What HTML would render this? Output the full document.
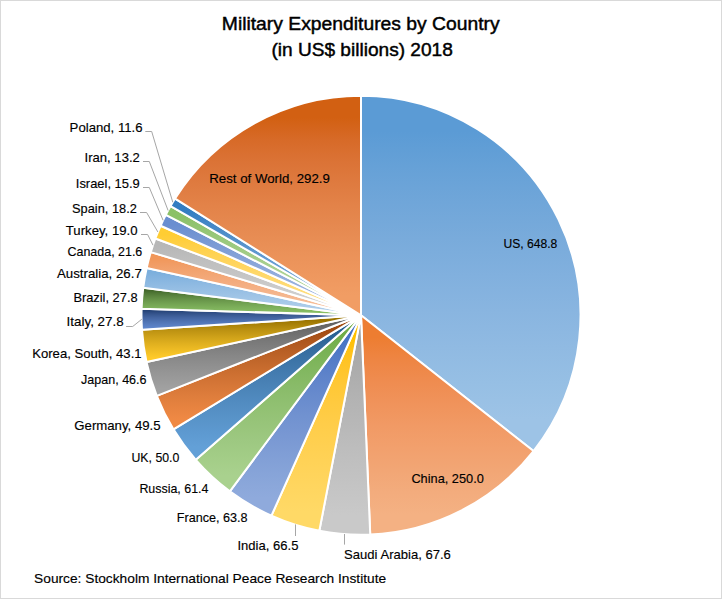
<!DOCTYPE html>
<html><head><meta charset="utf-8"><style>
html,body{margin:0;padding:0;background:#fff;}
body{width:722px;height:599px;overflow:hidden;position:relative;}
svg{position:absolute;left:0;top:0;}
text{font-family:"Liberation Sans",sans-serif;fill:#000;stroke:#000;stroke-width:0.15px;}
</style></head><body>
<svg width="722" height="599" viewBox="0 0 722 599">
<defs>
<linearGradient id="g0" x1="0" y1="0" x2="0" y2="1"><stop offset="0.100" stop-color="#5B9BD5"/><stop offset="0.201" stop-color="#66A1D7"/><stop offset="0.302" stop-color="#70A6D9"/><stop offset="0.404" stop-color="#79ABDB"/><stop offset="0.505" stop-color="#81B0DE"/><stop offset="0.606" stop-color="#89B5E0"/><stop offset="0.708" stop-color="#90BAE2"/><stop offset="0.809" stop-color="#96BFE4"/><stop offset="0.910" stop-color="#9DC3E6"/></linearGradient>
<linearGradient id="g1" x1="0" y1="0" x2="0" y2="1"><stop offset="0.100" stop-color="#ED7D31"/><stop offset="0.201" stop-color="#EE8543"/><stop offset="0.302" stop-color="#EF8C50"/><stop offset="0.404" stop-color="#F0935B"/><stop offset="0.505" stop-color="#F19A65"/><stop offset="0.606" stop-color="#F2A06D"/><stop offset="0.708" stop-color="#F2A675"/><stop offset="0.809" stop-color="#F3AC7D"/><stop offset="0.910" stop-color="#F4B183"/></linearGradient>
<linearGradient id="g2" x1="0" y1="0" x2="0" y2="1"><stop offset="0.100" stop-color="#A5A5A5"/><stop offset="0.201" stop-color="#AAAAAA"/><stop offset="0.302" stop-color="#AFAFAF"/><stop offset="0.404" stop-color="#B4B4B4"/><stop offset="0.505" stop-color="#B8B8B8"/><stop offset="0.606" stop-color="#BDBDBD"/><stop offset="0.708" stop-color="#C1C1C1"/><stop offset="0.809" stop-color="#C5C5C5"/><stop offset="0.910" stop-color="#C9C9C9"/></linearGradient>
<linearGradient id="g3" x1="0" y1="0" x2="0" y2="1"><stop offset="0.100" stop-color="#FFC000"/><stop offset="0.201" stop-color="#FFC323"/><stop offset="0.302" stop-color="#FFC733"/><stop offset="0.404" stop-color="#FFCA3F"/><stop offset="0.505" stop-color="#FFCD49"/><stop offset="0.606" stop-color="#FFD051"/><stop offset="0.708" stop-color="#FFD359"/><stop offset="0.809" stop-color="#FFD660"/><stop offset="0.910" stop-color="#FFD966"/></linearGradient>
<linearGradient id="g4" x1="0" y1="0" x2="0" y2="1"><stop offset="0.100" stop-color="#4472C4"/><stop offset="0.201" stop-color="#527BC7"/><stop offset="0.302" stop-color="#5E83CA"/><stop offset="0.404" stop-color="#688BCD"/><stop offset="0.505" stop-color="#7192D0"/><stop offset="0.606" stop-color="#7998D3"/><stop offset="0.708" stop-color="#819FD6"/><stop offset="0.809" stop-color="#88A5D9"/><stop offset="0.910" stop-color="#8FAADC"/></linearGradient>
<linearGradient id="g5" x1="0" y1="0" x2="0" y2="1"><stop offset="0.100" stop-color="#70AD47"/><stop offset="0.201" stop-color="#79B254"/><stop offset="0.302" stop-color="#81B75F"/><stop offset="0.404" stop-color="#89BB69"/><stop offset="0.505" stop-color="#90C071"/><stop offset="0.606" stop-color="#97C479"/><stop offset="0.708" stop-color="#9DC881"/><stop offset="0.809" stop-color="#A3CD87"/><stop offset="0.910" stop-color="#A9D18E"/></linearGradient>
<linearGradient id="g6" x1="0" y1="0" x2="0" y2="1"><stop offset="0.100" stop-color="#255E91"/><stop offset="0.201" stop-color="#32699C"/><stop offset="0.302" stop-color="#3C73A6"/><stop offset="0.404" stop-color="#447CB0"/><stop offset="0.505" stop-color="#4B84B8"/><stop offset="0.606" stop-color="#528CC1"/><stop offset="0.708" stop-color="#5893C8"/><stop offset="0.809" stop-color="#5D99D0"/><stop offset="0.910" stop-color="#63A0D7"/></linearGradient>
<linearGradient id="g7" x1="0" y1="0" x2="0" y2="1"><stop offset="0.100" stop-color="#9E480E"/><stop offset="0.201" stop-color="#AB541B"/><stop offset="0.302" stop-color="#B75E24"/><stop offset="0.404" stop-color="#C1672B"/><stop offset="0.505" stop-color="#CC6F31"/><stop offset="0.606" stop-color="#D57637"/><stop offset="0.708" stop-color="#DE7D3C"/><stop offset="0.809" stop-color="#E78340"/><stop offset="0.910" stop-color="#EF8944"/></linearGradient>
<linearGradient id="g8" x1="0" y1="0" x2="0" y2="1"><stop offset="0.100" stop-color="#636363"/><stop offset="0.201" stop-color="#6D6D6D"/><stop offset="0.302" stop-color="#777777"/><stop offset="0.404" stop-color="#7F7F7F"/><stop offset="0.505" stop-color="#878787"/><stop offset="0.606" stop-color="#8E8E8E"/><stop offset="0.708" stop-color="#959595"/><stop offset="0.809" stop-color="#9B9B9B"/><stop offset="0.910" stop-color="#A1A1A1"/></linearGradient>
<linearGradient id="g9" x1="0" y1="0" x2="0" y2="1"><stop offset="0.100" stop-color="#997300"/><stop offset="0.201" stop-color="#AA8209"/><stop offset="0.302" stop-color="#BA9011"/><stop offset="0.404" stop-color="#C79B16"/><stop offset="0.505" stop-color="#D4A61B"/><stop offset="0.606" stop-color="#E0B01F"/><stop offset="0.708" stop-color="#EBB923"/><stop offset="0.809" stop-color="#F5C226"/><stop offset="0.910" stop-color="#FFCA29"/></linearGradient>
<linearGradient id="g10" x1="0" y1="0" x2="0" y2="1"><stop offset="0.100" stop-color="#264478"/><stop offset="0.201" stop-color="#315087"/><stop offset="0.302" stop-color="#3A5A93"/><stop offset="0.404" stop-color="#42639F"/><stop offset="0.505" stop-color="#496BA9"/><stop offset="0.606" stop-color="#4F73B3"/><stop offset="0.708" stop-color="#557ABC"/><stop offset="0.809" stop-color="#5A80C4"/><stop offset="0.910" stop-color="#5F86CC"/></linearGradient>
<linearGradient id="g11" x1="0" y1="0" x2="0" y2="1"><stop offset="0.100" stop-color="#43682B"/><stop offset="0.201" stop-color="#507836"/><stop offset="0.302" stop-color="#5B853F"/><stop offset="0.404" stop-color="#659147"/><stop offset="0.505" stop-color="#6D9C4E"/><stop offset="0.606" stop-color="#75A654"/><stop offset="0.708" stop-color="#7CAF5A"/><stop offset="0.809" stop-color="#83B75F"/><stop offset="0.910" stop-color="#89C064"/></linearGradient>
<linearGradient id="g12" x1="0" y1="0" x2="0" y2="1"><stop offset="0.100" stop-color="#7CAFDD"/><stop offset="0.201" stop-color="#84B3DF"/><stop offset="0.302" stop-color="#8BB8E1"/><stop offset="0.404" stop-color="#92BCE3"/><stop offset="0.505" stop-color="#99C0E4"/><stop offset="0.606" stop-color="#9FC4E6"/><stop offset="0.708" stop-color="#A5C8E8"/><stop offset="0.809" stop-color="#ABCBE9"/><stop offset="0.910" stop-color="#B0CFEB"/></linearGradient>
<linearGradient id="g13" x1="0" y1="0" x2="0" y2="1"><stop offset="0.100" stop-color="#F1975A"/><stop offset="0.201" stop-color="#F19D66"/><stop offset="0.302" stop-color="#F2A36F"/><stop offset="0.404" stop-color="#F3A878"/><stop offset="0.505" stop-color="#F4AD81"/><stop offset="0.606" stop-color="#F4B288"/><stop offset="0.708" stop-color="#F5B78F"/><stop offset="0.809" stop-color="#F6BC96"/><stop offset="0.910" stop-color="#F6C19C"/></linearGradient>
<linearGradient id="g14" x1="0" y1="0" x2="0" y2="1"><stop offset="0.100" stop-color="#B7B7B7"/><stop offset="0.201" stop-color="#BBBBBB"/><stop offset="0.302" stop-color="#BFBFBF"/><stop offset="0.404" stop-color="#C2C2C2"/><stop offset="0.505" stop-color="#C6C6C6"/><stop offset="0.606" stop-color="#CACACA"/><stop offset="0.708" stop-color="#CDCDCD"/><stop offset="0.809" stop-color="#D0D0D0"/><stop offset="0.910" stop-color="#D4D4D4"/></linearGradient>
<linearGradient id="g15" x1="0" y1="0" x2="0" y2="1"><stop offset="0.100" stop-color="#FFCD33"/><stop offset="0.201" stop-color="#FFCF44"/><stop offset="0.302" stop-color="#FFD251"/><stop offset="0.404" stop-color="#FFD45C"/><stop offset="0.505" stop-color="#FFD766"/><stop offset="0.606" stop-color="#FFD96F"/><stop offset="0.708" stop-color="#FFDC77"/><stop offset="0.809" stop-color="#FFDE7E"/><stop offset="0.910" stop-color="#FFE185"/></linearGradient>
<linearGradient id="g16" x1="0" y1="0" x2="0" y2="1"><stop offset="0.100" stop-color="#698ED0"/><stop offset="0.201" stop-color="#7395D2"/><stop offset="0.302" stop-color="#7C9BD5"/><stop offset="0.404" stop-color="#84A1D7"/><stop offset="0.505" stop-color="#8BA7DA"/><stop offset="0.606" stop-color="#92ACDC"/><stop offset="0.708" stop-color="#99B1DE"/><stop offset="0.809" stop-color="#9FB6E0"/><stop offset="0.910" stop-color="#A5BBE3"/></linearGradient>
<linearGradient id="g17" x1="0" y1="0" x2="0" y2="1"><stop offset="0.100" stop-color="#8CC168"/><stop offset="0.201" stop-color="#93C472"/><stop offset="0.302" stop-color="#99C87B"/><stop offset="0.404" stop-color="#9FCB83"/><stop offset="0.505" stop-color="#A5CE8B"/><stop offset="0.606" stop-color="#ABD192"/><stop offset="0.708" stop-color="#B0D498"/><stop offset="0.809" stop-color="#B5D79E"/><stop offset="0.910" stop-color="#BADAA4"/></linearGradient>
<linearGradient id="g18" x1="0" y1="0" x2="0" y2="1"><stop offset="0.100" stop-color="#327DC2"/><stop offset="0.201" stop-color="#4285C6"/><stop offset="0.302" stop-color="#4E8DC9"/><stop offset="0.404" stop-color="#5994CD"/><stop offset="0.505" stop-color="#629AD1"/><stop offset="0.606" stop-color="#6BA0D4"/><stop offset="0.708" stop-color="#72A6D8"/><stop offset="0.809" stop-color="#79ACDB"/><stop offset="0.910" stop-color="#80B1DE"/></linearGradient>
<linearGradient id="g19" x1="0" y1="0" x2="0" y2="1"><stop offset="0.100" stop-color="#D26012"/><stop offset="0.201" stop-color="#D76A28"/><stop offset="0.302" stop-color="#DB7336"/><stop offset="0.404" stop-color="#DF7B40"/><stop offset="0.505" stop-color="#E38349"/><stop offset="0.606" stop-color="#E68A51"/><stop offset="0.708" stop-color="#EA9158"/><stop offset="0.809" stop-color="#EE975E"/><stop offset="0.910" stop-color="#F19D64"/></linearGradient>
</defs>
<rect x="0.5" y="0.5" width="721" height="598" fill="#fff" stroke="#D9D9D9" stroke-width="1"/>
<text x="221.8" y="29.6" textLength="277.9" lengthAdjust="spacingAndGlyphs" style="font-size:18.7px;stroke-width:0.45px">Military Expenditures by Country</text>
<text x="271.4" y="55.9" textLength="181.4" lengthAdjust="spacingAndGlyphs" style="font-size:18.7px;stroke-width:0.45px">(in US$ billions) 2018</text>
<g stroke="#fff" stroke-width="2" stroke-linejoin="round">
<path d="M361,315.3 L361.00,95.80 A219.5,219.5 0 0 1 533.51,451.02 Z" fill="url(#g0)"/>
<path d="M361,315.3 L533.51,451.02 A219.5,219.5 0 0 1 370.23,534.61 Z" fill="url(#g1)"/>
<path d="M361,315.3 L370.23,534.61 A219.5,219.5 0 0 1 319.32,530.81 Z" fill="url(#g2)"/>
<path d="M361,315.3 L319.32,530.81 A219.5,219.5 0 0 1 271.42,515.69 Z" fill="url(#g3)"/>
<path d="M361,315.3 L271.42,515.69 A219.5,219.5 0 0 1 229.85,491.31 Z" fill="url(#g4)"/>
<path d="M361,315.3 L229.85,491.31 A219.5,219.5 0 0 1 195.79,459.82 Z" fill="url(#g5)"/>
<path d="M361,315.3 L195.79,459.82 A219.5,219.5 0 0 1 173.44,429.33 Z" fill="url(#g6)"/>
<path d="M361,315.3 L173.44,429.33 A219.5,219.5 0 0 1 156.80,395.81 Z" fill="url(#g7)"/>
<path d="M361,315.3 L156.80,395.81 A219.5,219.5 0 0 1 146.55,362.10 Z" fill="url(#g8)"/>
<path d="M361,315.3 L146.55,362.10 A219.5,219.5 0 0 1 141.98,329.82 Z" fill="url(#g9)"/>
<path d="M361,315.3 L141.98,329.82 A219.5,219.5 0 0 1 141.60,308.79 Z" fill="url(#g10)"/>
<path d="M361,315.3 L141.60,308.79 A219.5,219.5 0 0 1 143.23,287.82 Z" fill="url(#g11)"/>
<path d="M361,315.3 L143.23,287.82 A219.5,219.5 0 0 1 146.68,267.91 Z" fill="url(#g12)"/>
<path d="M361,315.3 L146.68,267.91 A219.5,219.5 0 0 1 150.80,252.09 Z" fill="url(#g13)"/>
<path d="M361,315.3 L150.80,252.09 A219.5,219.5 0 0 1 155.39,238.47 Z" fill="url(#g14)"/>
<path d="M361,315.3 L155.39,238.47 A219.5,219.5 0 0 1 160.61,225.72 Z" fill="url(#g15)"/>
<path d="M361,315.3 L160.61,225.72 A219.5,219.5 0 0 1 165.82,214.87 Z" fill="url(#g16)"/>
<path d="M361,315.3 L165.82,214.87 A219.5,219.5 0 0 1 170.59,206.10 Z" fill="url(#g17)"/>
<path d="M361,315.3 L170.59,206.10 A219.5,219.5 0 0 1 175.11,198.57 Z" fill="url(#g18)"/>
<path d="M361,315.3 L175.11,198.57 A219.5,219.5 0 0 1 361.00,95.80 Z" fill="url(#g19)"/>
</g>
<polyline points="145.3,131.5 151.7,131.5 172.8,202.3" fill="none" stroke="#A6A6A6" stroke-width="1"/>
<polyline points="143,161.5 149.3,161.5 168.1,210.5" fill="none" stroke="#A6A6A6" stroke-width="1"/>
<polyline points="143,187.5 149.3,187.5 163.1,220.3" fill="none" stroke="#A6A6A6" stroke-width="1"/>
<polyline points="140,212.5 146.6,212.5 157.9,232" fill="none" stroke="#A6A6A6" stroke-width="1"/>
<polyline points="141,234.5 147.6,234.5 153,245.2" fill="none" stroke="#A6A6A6" stroke-width="1"/>
<polyline points="126.1,326.5 132.7,326.5 141.8,319.2" fill="none" stroke="#A6A6A6" stroke-width="1"/>
<polyline points="295.5,524.4 295.5,536" fill="none" stroke="#A6A6A6" stroke-width="1"/>
<polyline points="344.5,534 344.5,544.6" fill="none" stroke="#A6A6A6" stroke-width="1"/>
<g style="font-size:13.3px">
<text x="69.6" y="131.6" textLength="73.0" lengthAdjust="spacingAndGlyphs">Poland, 11.6</text>
<text x="84.6" y="161.5" textLength="55.2" lengthAdjust="spacingAndGlyphs">Iran, 13.2</text>
<text x="75.8" y="187.6" textLength="64.0" lengthAdjust="spacingAndGlyphs">Israel, 15.9</text>
<text x="72.1" y="212.5" textLength="64.7" lengthAdjust="spacingAndGlyphs">Spain, 18.2</text>
<text x="65.8" y="234.6" textLength="71.8" lengthAdjust="spacingAndGlyphs">Turkey, 19.0</text>
<text x="67.5" y="256.0" textLength="74.8" lengthAdjust="spacingAndGlyphs">Canada, 21.6</text>
<text x="57.0" y="278.0" textLength="84.8" lengthAdjust="spacingAndGlyphs">Australia, 26.7</text>
<text x="73.4" y="301.6" textLength="64.2" lengthAdjust="spacingAndGlyphs">Brazil, 27.8</text>
<text x="66.6" y="325.9" textLength="57.1" lengthAdjust="spacingAndGlyphs">Italy, 27.8</text>
<text x="32.2" y="357.7" textLength="109.4" lengthAdjust="spacingAndGlyphs">Korea, South, 43.1</text>
<text x="81.1" y="384.3" textLength="65.4" lengthAdjust="spacingAndGlyphs">Japan, 46.6</text>
<text x="74.3" y="430.1" textLength="86.3" lengthAdjust="spacingAndGlyphs">Germany, 49.5</text>
<text x="131.5" y="461.9" textLength="47.8" lengthAdjust="spacingAndGlyphs">UK, 50.0</text>
<text x="139.4" y="492.5" textLength="69.0" lengthAdjust="spacingAndGlyphs">Russia, 61.4</text>
<text x="176.8" y="521.7" textLength="70.8" lengthAdjust="spacingAndGlyphs">France, 63.8</text>
<text x="237.5" y="549.8" textLength="60.9" lengthAdjust="spacingAndGlyphs">India, 66.5</text>
<text x="344.1" y="559.1" textLength="106.8" lengthAdjust="spacingAndGlyphs">Saudi Arabia, 67.6</text>
<text x="503.5" y="247.7" textLength="53.8" lengthAdjust="spacingAndGlyphs">US, 648.8</text>
<text x="411.4" y="482.7" textLength="72.4" lengthAdjust="spacingAndGlyphs">China, 250.0</text>
<text x="209.3" y="182.7" textLength="120.6" lengthAdjust="spacingAndGlyphs">Rest of World, 292.9</text>
<text x="34.1" y="582.5" textLength="352" lengthAdjust="spacingAndGlyphs">Source: Stockholm International Peace Research Institute</text>
</g>
</svg>
</body></html>
